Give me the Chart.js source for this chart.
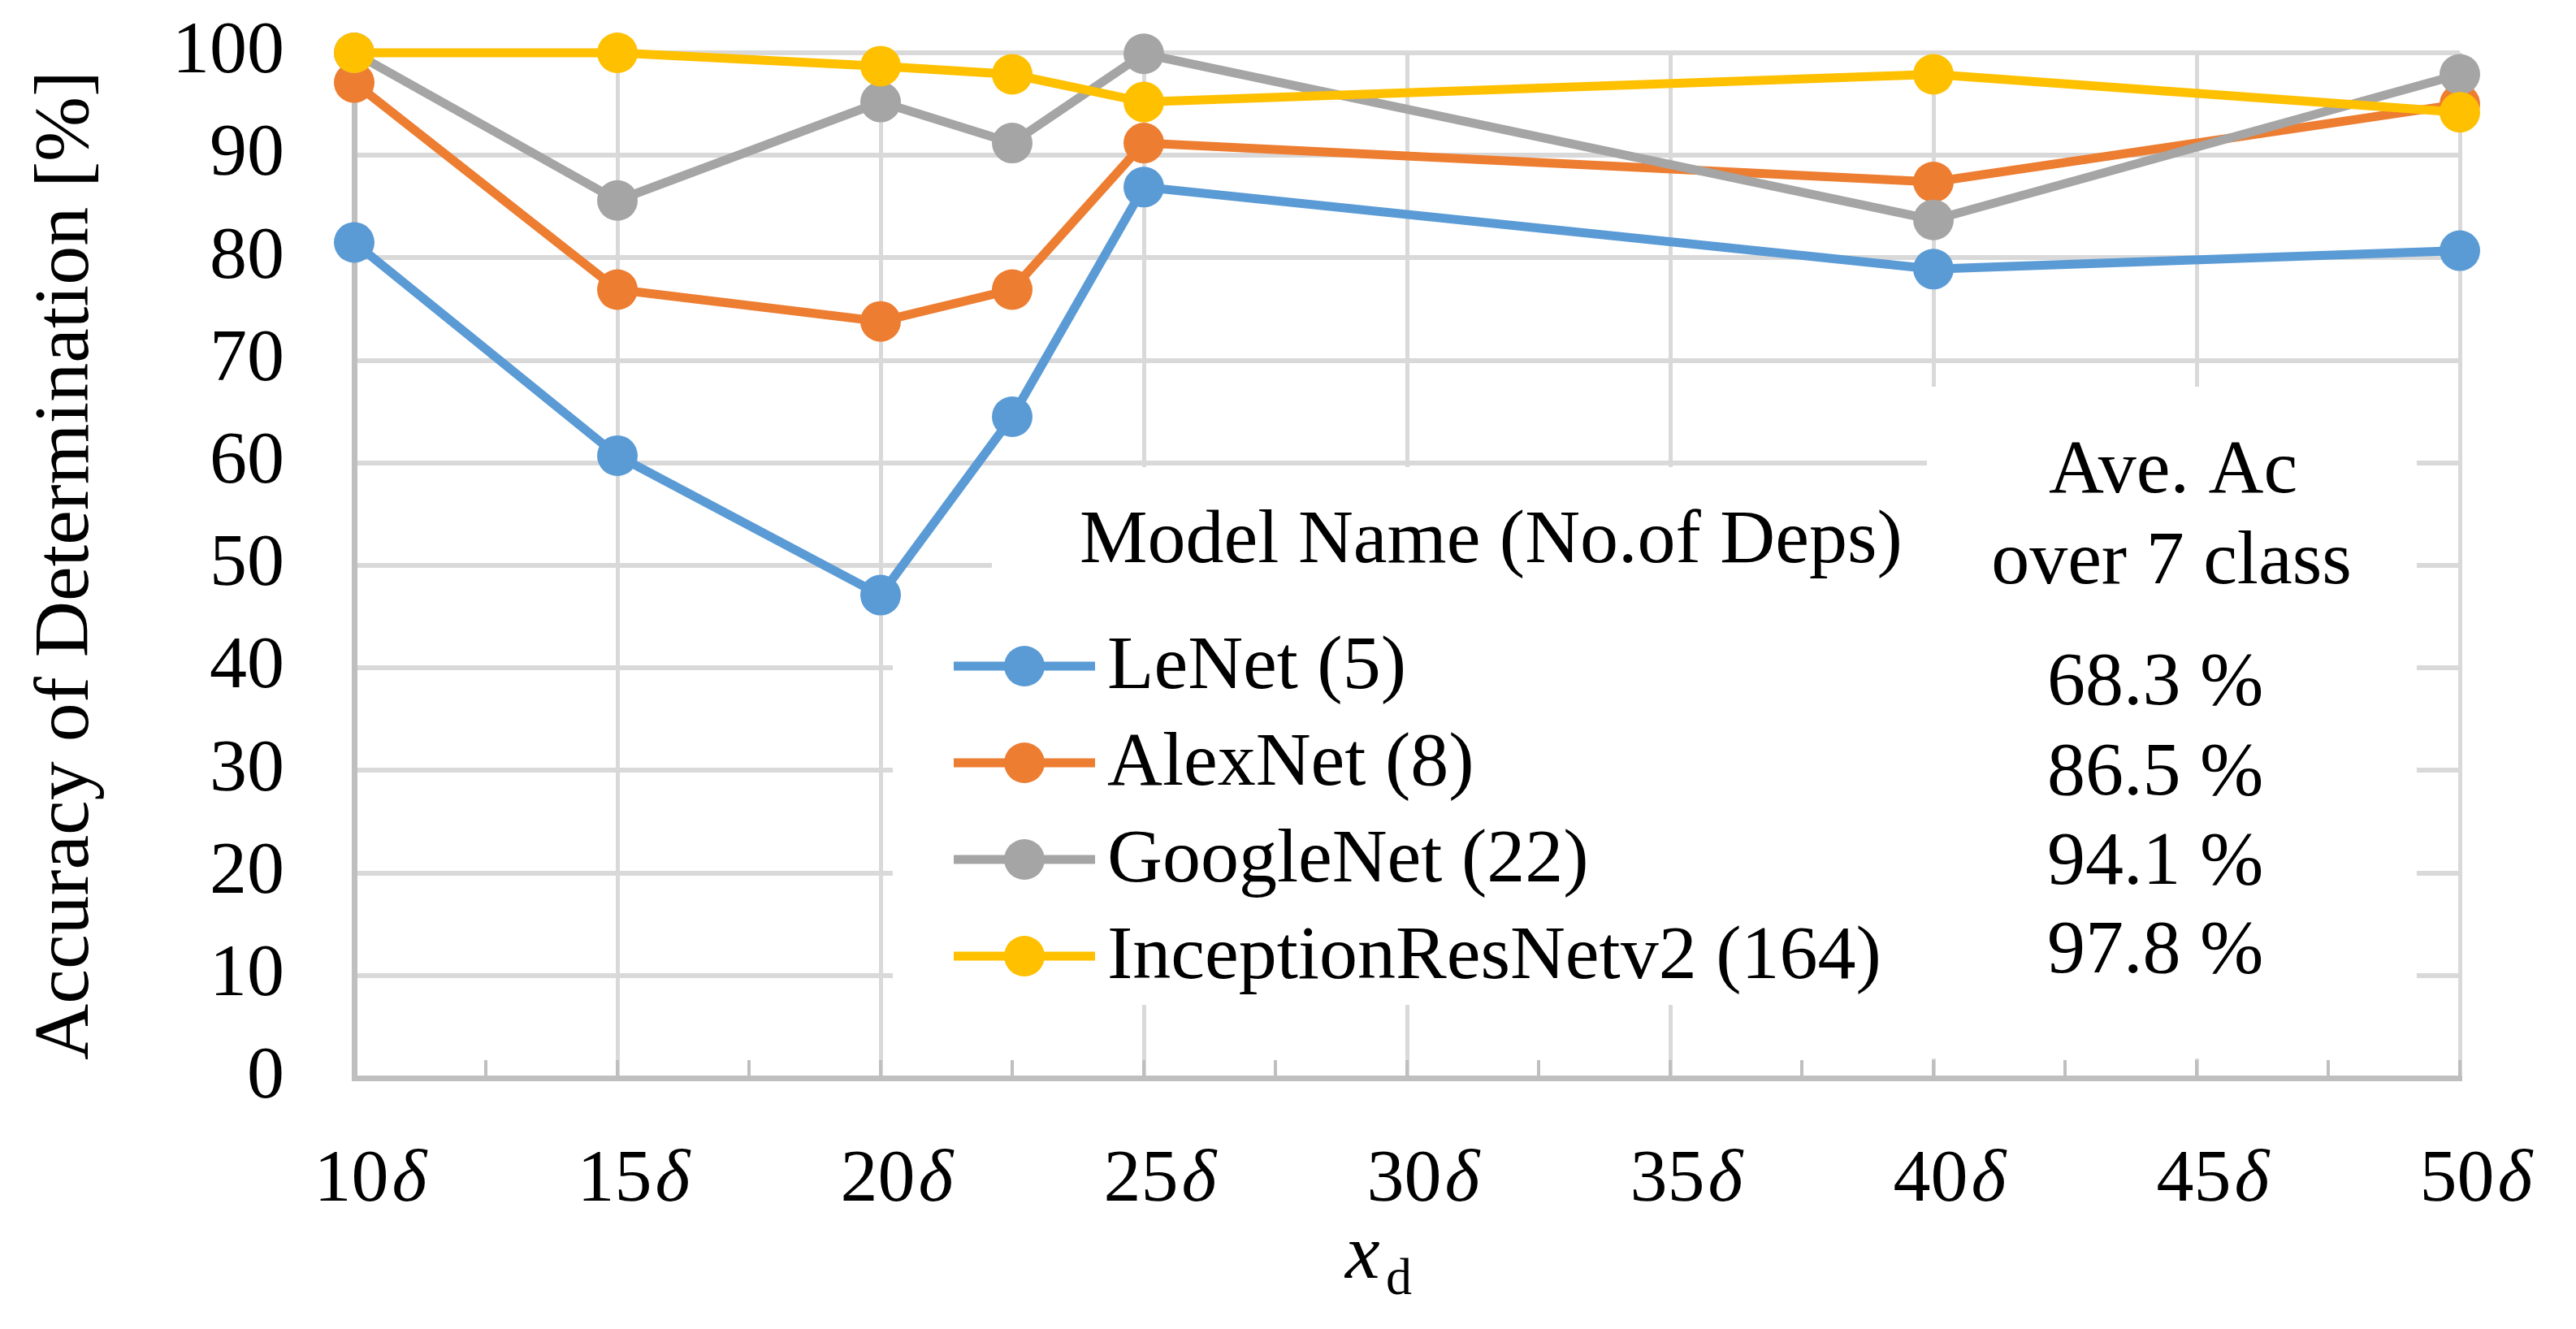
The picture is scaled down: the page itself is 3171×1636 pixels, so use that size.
<!DOCTYPE html>
<html>
<head>
<meta charset="utf-8">
<script src="https://cdn.jsdelivr.net/npm/chart.js@4.4.1/dist/chart.umd.min.js"></script>
<style>
  html, body { margin: 0; padding: 0; background: #fff; }
  #wrap { width: 3171px; height: 1636px; }
</style>
</head>
<body>
<div id="wrap"><canvas id="myChart" width="3171" height="1636"></canvas></div>
<script>
// values
const xValues = [10, 15, 20, 22.5, 25, 40, 50];
const lenet = [81.5, 60.7, 47.1, 64.5, 86.9, 78.9, 80.7];
const alexnet = [97.1, 76.9, 73.8, 76.9, 91.2, 87.4, 95.0];
const googlenet = [100, 85.6, 95.2, 91.2, 99.9, 83.7, 97.9];
const inception = [100, 100, 98.7, 97.9, 95.2, 97.9, 94.2];

const seriesNames = ['LeNet (5)', 'AlexNet (8)', 'GoogleNet (22)', 'InceptionResNetv2 (164)'];
const seriesColors = ['#5B9BD5', '#ED7D31', '#A5A5A5', '#FFC000'];
const aveAccuracy = ['68.3 %', '86.5 %', '94.1 %', '97.8 %'];
const xTickValues = [10, 15, 20, 25, 30, 35, 40, 45, 50];

const SERIF = "'Liberation Serif', 'Times New Roman', serif";
const series = [lenet, alexnet, googlenet, inception];

// white text boxes hide the grid behind the legend (like the Excel text boxes)
const boxes = {
  id: 'boxes',
  beforeDatasetsDraw(chart) {
    const ctx = chart.ctx;
    const xs = chart.scales.x;
    const bottom = chart.chartArea.bottom;
    ctx.save();
    ctx.fillStyle = '#fff';
    ctx.fillRect(1221, 575, 2380 - 1221, 1237 - 575);
    ctx.fillRect(1099, 760, 2380 - 1099, 1237 - 760);
    ctx.fillRect(2372, 476, 2975 - 2372, 1303 - 476);

    // small tick marks inside the x axis
    ctx.strokeStyle = '#BFBFBF';
    ctx.lineWidth = 4;
    xs.ticks.forEach(t => {
      const px = xs.getPixelForValue(t.value);
      ctx.beginPath();
      ctx.moveTo(px, bottom - 22);
      ctx.lineTo(px, bottom);
      ctx.stroke();
    });
    ctx.restore();
  }
};

const overlay = {
  id: 'overlay',
  afterDraw(chart) {
    const ctx = chart.ctx;
    const xs = chart.scales.x;
    ctx.save();
    ctx.fillStyle = '#000';
    ctx.textBaseline = 'alphabetic';

    // x tick labels: "10" upright + italic delta
    xTickValues.forEach(v => {
      const px = xs.getPixelForValue(v);
      ctx.font = `92px ${SERIF}`;
      const num = String(v);
      const w1 = ctx.measureText(num).width;
      ctx.font = `italic 92px ${SERIF}`;
      const w2 = ctx.measureText('δ').width;
      const start = px + 20 - (w1 + 4 + w2) / 2;
      ctx.font = `92px ${SERIF}`;
      ctx.textAlign = 'left';
      ctx.fillText(num, start, 1478);
      ctx.font = `italic 92px ${SERIF}`;
      ctx.fillText('δ', start + w1 + 4, 1478);
    });

    // x axis title x_d
    ctx.font = `italic 96px ${SERIF}`;
    ctx.fillText('x', 1656, 1573);
    ctx.font = `64px ${SERIF}`;
    ctx.fillText('d', 1706, 1593);

    // legend header
    ctx.font = `94px ${SERIF}`;
    ctx.fillText('Model Name (No.of Deps)', 1329, 692);
    ctx.textAlign = 'center';
    ctx.fillText('Ave. Ac', 2675, 606);
    ctx.fillText('over 7 class', 2673, 718);

    // legend rows
    const valueBase = [867, 978, 1088, 1197];
    seriesNames.forEach((name, i) => {
      const cy = 820 + i * 119;
      ctx.strokeStyle = seriesColors[i];
      ctx.lineWidth = 11;
      ctx.beginPath();
      ctx.moveTo(1174, cy);
      ctx.lineTo(1348, cy);
      ctx.stroke();
      ctx.fillStyle = seriesColors[i];
      ctx.beginPath();
      ctx.arc(1261, cy, 25, 0, Math.PI * 2);
      ctx.fill();
      ctx.fillStyle = '#000';
      ctx.textAlign = 'left';
      ctx.font = `94px ${SERIF}`;
      ctx.fillText(name, 1363, cy + 27);
      ctx.fillText(aveAccuracy[i], 2520, valueBase[i]);
    });
    ctx.restore();
  }
};

const ctx = document.getElementById('myChart');

new Chart(ctx, {
  type: 'line',
  data: {
    datasets: seriesNames.map((name, i) => ({
      label: name,
      data: xValues.map((x, j) => ({ x: x, y: series[i][j] })),
      borderColor: seriesColors[i],
      backgroundColor: seriesColors[i],
      pointBackgroundColor: seriesColors[i],
      borderWidth: 11,
      pointRadius: 25,
      pointHoverRadius: 25,
      pointBorderWidth: 0,
      tension: 0,
      clip: false,
      order: 4 - i // last series on top, like the figure
    }))
  },
  options: {
    responsive: false,
    animation: false,
    devicePixelRatio: 1,
    layout: { padding: { top: 65, right: 143, left: 0, bottom: 0 } },
    plugins: {
      legend: { display: false },
      tooltip: { enabled: false }
    },
    scales: {
      x: {
        type: 'linear',
        min: 10,
        max: 50,
        ticks: { stepSize: 2.5, display: false },
        grid: {
          color: c => (c.tick && c.tick.value % 5 === 0) ? '#D9D9D9' : 'rgba(0,0,0,0)',
          lineWidth: 5,
          drawTicks: false
        },
        border: { color: '#BFBFBF', width: 7 },
        afterFit: s => { s.height = 309; s.paddingLeft = 0; s.paddingRight = 0; }
      },
      y: {
        min: 0,
        max: 100,
        ticks: {
          stepSize: 10,
          padding: 86,
          color: '#000',
          font: { family: SERIF, size: 92 }
        },
        grid: { color: '#D9D9D9', lineWidth: 6, drawTicks: false },
        border: { color: '#BFBFBF', width: 7 },
        title: {
          display: true,
          text: 'Accuracy of Determination [%]',
          color: '#000',
          font: { family: SERIF, size: 96 },
          padding: { top: 25, bottom: 0 }
        },
        afterFit: s => { s.width = 436; s.paddingTop = 0; s.paddingBottom = 0; }
      }
    }
  },
  plugins: [boxes, overlay]
});
</script>
</body>
</html>
